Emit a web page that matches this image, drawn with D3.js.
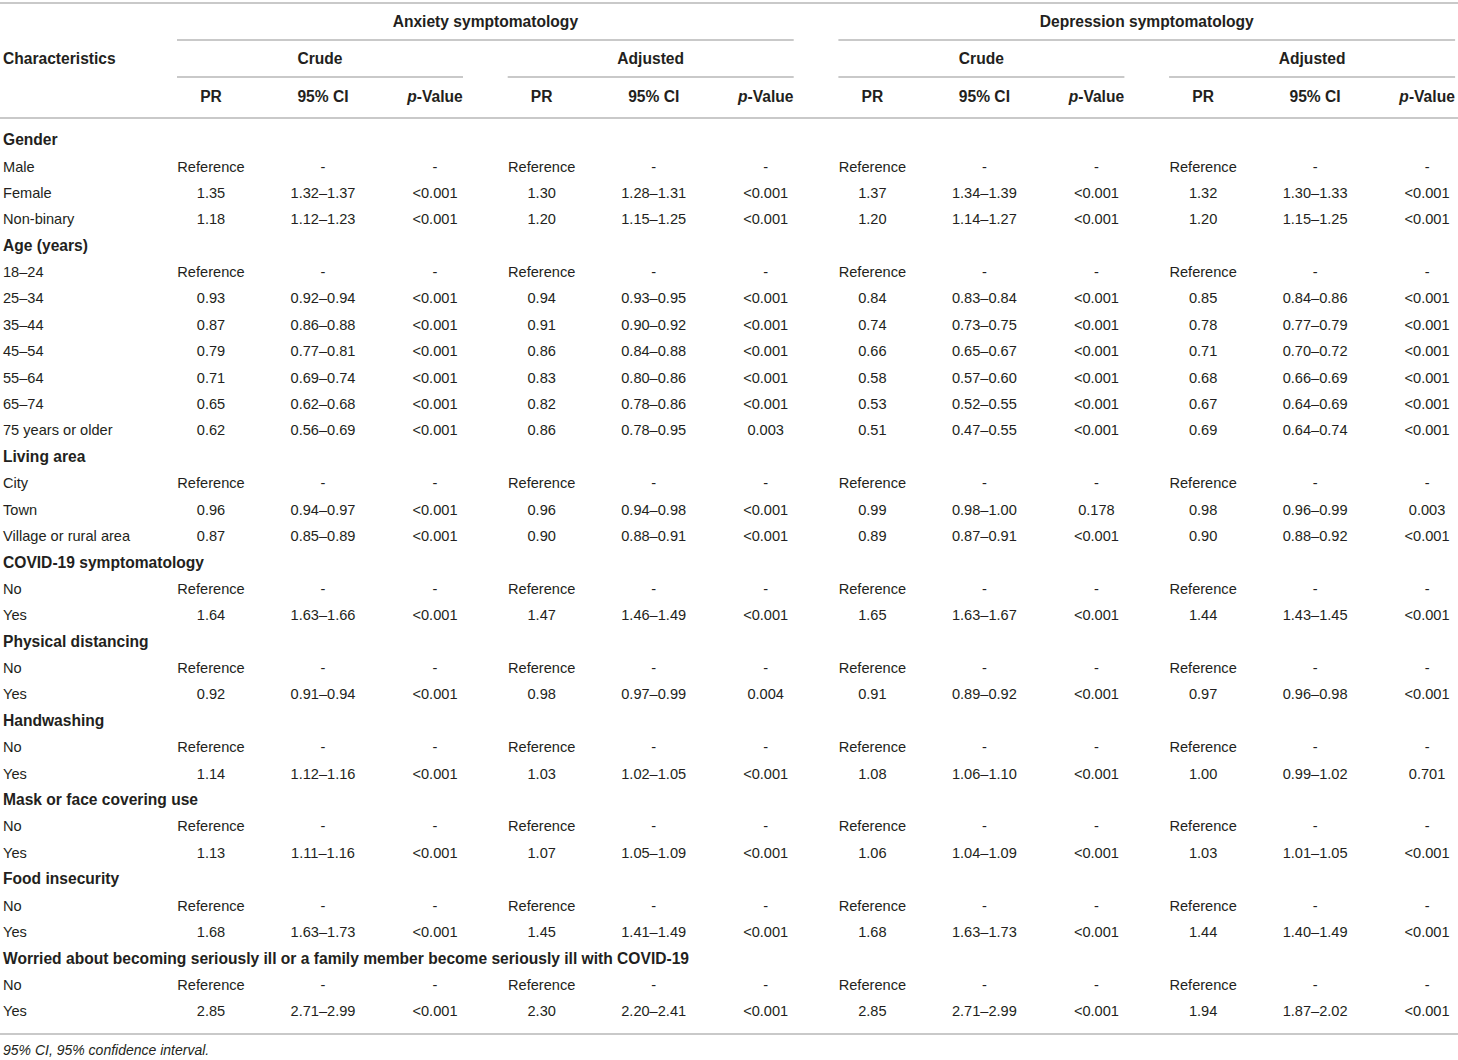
<!DOCTYPE html>
<html lang="en">
<head>
<meta charset="utf-8">
<title>Prevalence ratios table</title>
<script src="https://cdn.jsdelivr.net/npm/d3@7"></script>
<style>
  body { margin: 0; background: #fff; }
  svg text { font-family: "Liberation Sans", Arial, Helvetica, sans-serif; fill: #231f20; }
</style>
</head>
<body>
<script>
var w = 1458;
var h = 1060;

// row labels in order; section heads are bold
var characteristics = ["Gender", "Male", "Female", "Non-binary",
  "Age (years)", "18–24", "25–34", "35–44", "45–54", "55–64", "65–74", "75 years or older",
  "Living area", "City", "Town", "Village or rural area",
  "COVID-19 symptomatology", "No", "Yes",
  "Physical distancing", "No", "Yes",
  "Handwashing", "No", "Yes",
  "Mask or face covering use", "No", "Yes",
  "Food insecurity", "No", "Yes",
  "Worried about becoming seriously ill or a family member become seriously ill with COVID-19", "No", "Yes"];
var sectionRows = [0, 4, 12, 16, 19, 22, 25, 28, 31];

var outcomes = ["Anxiety symptomatology", "Depression symptomatology"];
var models = ["Crude", "Adjusted"];
var statCols = ["PR", "95% CI", "p-Value"];

// values for the 25 non-section rows
var anxCrudePR = ["Reference", "1.35", "1.18", "Reference", "0.93", "0.87", "0.79", "0.71", "0.65", "0.62", "Reference", "0.96", "0.87", "Reference", "1.64", "Reference", "0.92", "Reference", "1.14", "Reference", "1.13", "Reference", "1.68", "Reference", "2.85"];
var anxCrudeCI = ["-", "1.32–1.37", "1.12–1.23", "-", "0.92–0.94", "0.86–0.88", "0.77–0.81", "0.69–0.74", "0.62–0.68", "0.56–0.69", "-", "0.94–0.97", "0.85–0.89", "-", "1.63–1.66", "-", "0.91–0.94", "-", "1.12–1.16", "-", "1.11–1.16", "-", "1.63–1.73", "-", "2.71–2.99"];
var anxCrudeP = ["-", "<0.001", "<0.001", "-", "<0.001", "<0.001", "<0.001", "<0.001", "<0.001", "<0.001", "-", "<0.001", "<0.001", "-", "<0.001", "-", "<0.001", "-", "<0.001", "-", "<0.001", "-", "<0.001", "-", "<0.001"];

var anxAdjPR = ["Reference", "1.30", "1.20", "Reference", "0.94", "0.91", "0.86", "0.83", "0.82", "0.86", "Reference", "0.96", "0.90", "Reference", "1.47", "Reference", "0.98", "Reference", "1.03", "Reference", "1.07", "Reference", "1.45", "Reference", "2.30"];
var anxAdjCI = ["-", "1.28–1.31", "1.15–1.25", "-", "0.93–0.95", "0.90–0.92", "0.84–0.88", "0.80–0.86", "0.78–0.86", "0.78–0.95", "-", "0.94–0.98", "0.88–0.91", "-", "1.46–1.49", "-", "0.97–0.99", "-", "1.02–1.05", "-", "1.05–1.09", "-", "1.41–1.49", "-", "2.20–2.41"];
var anxAdjP = ["-", "<0.001", "<0.001", "-", "<0.001", "<0.001", "<0.001", "<0.001", "<0.001", "0.003", "-", "<0.001", "<0.001", "-", "<0.001", "-", "0.004", "-", "<0.001", "-", "<0.001", "-", "<0.001", "-", "<0.001"];

var depCrudePR = ["Reference", "1.37", "1.20", "Reference", "0.84", "0.74", "0.66", "0.58", "0.53", "0.51", "Reference", "0.99", "0.89", "Reference", "1.65", "Reference", "0.91", "Reference", "1.08", "Reference", "1.06", "Reference", "1.68", "Reference", "2.85"];
var depCrudeCI = ["-", "1.34–1.39", "1.14–1.27", "-", "0.83–0.84", "0.73–0.75", "0.65–0.67", "0.57–0.60", "0.52–0.55", "0.47–0.55", "-", "0.98–1.00", "0.87–0.91", "-", "1.63–1.67", "-", "0.89–0.92", "-", "1.06–1.10", "-", "1.04–1.09", "-", "1.63–1.73", "-", "2.71–2.99"];
var depCrudeP = ["-", "<0.001", "<0.001", "-", "<0.001", "<0.001", "<0.001", "<0.001", "<0.001", "<0.001", "-", "0.178", "<0.001", "-", "<0.001", "-", "<0.001", "-", "<0.001", "-", "<0.001", "-", "<0.001", "-", "<0.001"];

var depAdjPR = ["Reference", "1.32", "1.20", "Reference", "0.85", "0.78", "0.71", "0.68", "0.67", "0.69", "Reference", "0.98", "0.90", "Reference", "1.44", "Reference", "0.97", "Reference", "1.00", "Reference", "1.03", "Reference", "1.44", "Reference", "1.94"];
var depAdjCI = ["-", "1.30–1.33", "1.15–1.25", "-", "0.84–0.86", "0.77–0.79", "0.70–0.72", "0.66–0.69", "0.64–0.69", "0.64–0.74", "-", "0.96–0.99", "0.88–0.92", "-", "1.43–1.45", "-", "0.96–0.98", "-", "0.99–1.02", "-", "1.01–1.05", "-", "1.40–1.49", "-", "1.87–2.02"];
var depAdjP = ["-", "<0.001", "<0.001", "-", "<0.001", "<0.001", "<0.001", "<0.001", "<0.001", "<0.001", "-", "0.003", "<0.001", "-", "<0.001", "-", "<0.001", "-", "0.701", "-", "<0.001", "-", "<0.001", "-", "<0.001"];

var footnote = "95% CI, 95% confidence interval.";

// group order: anxiety crude, anxiety adjusted, depression crude, depression adjusted
var groupCols = [
  [anxCrudePR, anxCrudeCI, anxCrudeP],
  [anxAdjPR, anxAdjCI, anxAdjP],
  [depCrudePR, depCrudeCI, depCrudeP],
  [depAdjPR, depAdjCI, depAdjP]
];

var groupIds = d3.range(4);
var groupWidth = 286;

var xGroup = d3.scaleBand()
  .domain(groupIds)
  .range([177, 177 + 4 * 330.7]);

var xStat = d3.scalePoint()
  .domain(statCols)
  .range([34, 258]);

var yRow = d3.scalePoint()
  .domain(d3.range(characteristics.length))
  .range([140, 1011]);

var lineColor = "#b7b7b7";
var fontSize = 14.6;
var boldSize = 15.6;

var svg = d3.select("body")
  .append("svg")
  .attr("width", w)
  .attr("height", h);

// horizontal rules
function rule(x1, x2, y) {
  svg.append("line")
    .attr("x1", x1).attr("x2", x2)
    .attr("y1", y).attr("y2", y)
    .attr("stroke", lineColor)
    .attr("stroke-width", 1.6);
}
rule(0, w, 3);
rule(0, w, 118);
rule(0, w, 1034);

// outcome headers
outcomes.forEach(function(o, k) {
  var x1 = xGroup(k * 2);
  var x2 = xGroup(k * 2 + 1) + groupWidth;
  rule(x1, x2, 40);
  svg.append("text")
    .attr("x", (x1 + x2) / 2)
    .attr("y", 22)
    .attr("dy", "0.35em")
    .attr("text-anchor", "middle")
    .attr("font-weight", "bold")
    .attr("font-size", boldSize)
    .text(o);
});

// model headers and stat headers
groupIds.forEach(function(g) {
  var x0 = xGroup(g);
  rule(x0, x0 + groupWidth, 77);
  svg.append("text")
    .attr("x", x0 + groupWidth / 2)
    .attr("y", 59)
    .attr("dy", "0.35em")
    .attr("text-anchor", "middle")
    .attr("font-weight", "bold")
    .attr("font-size", boldSize)
    .text(models[g % 2]);

  statCols.forEach(function(s) {
    var t = svg.append("text")
      .attr("x", x0 + xStat(s))
      .attr("y", 97)
      .attr("dy", "0.35em")
      .attr("text-anchor", "middle")
      .attr("font-weight", "bold")
      .attr("font-size", boldSize);
    if (s === "p-Value") {
      t.append("tspan").attr("font-style", "italic").text("p");
      t.append("tspan").text("-Value");
    } else {
      t.text(s);
    }
  });
});

svg.append("text")
  .attr("x", 3)
  .attr("y", 59)
  .attr("dy", "0.35em")
  .attr("font-weight", "bold")
  .attr("font-size", boldSize)
  .text("Characteristics");

// body rows
var dataIndex = 0;
characteristics.forEach(function(label, i) {
  var isSection = sectionRows.indexOf(i) >= 0;
  svg.append("text")
    .attr("x", 3)
    .attr("y", yRow(i))
    .attr("dy", "0.35em")
    .attr("font-weight", isSection ? "bold" : "normal")
    .attr("font-size", isSection ? boldSize : fontSize)
    .text(label);
  if (isSection) return;

  var j = dataIndex++;
  groupIds.forEach(function(g) {
    statCols.forEach(function(s, c) {
      svg.append("text")
        .attr("x", xGroup(g) + xStat(s))
        .attr("y", yRow(i))
        .attr("dy", "0.35em")
        .attr("text-anchor", "middle")
        .attr("font-size", fontSize)
        .text(groupCols[g][c][j]);
    });
  });
});

svg.append("text")
  .attr("x", 3)
  .attr("y", 1050)
  .attr("dy", "0.35em")
  .attr("font-style", "italic")
  .attr("font-size", 14)
  .attr("fill", "#444")
  .text(footnote);
</script>
</body>
</html>
